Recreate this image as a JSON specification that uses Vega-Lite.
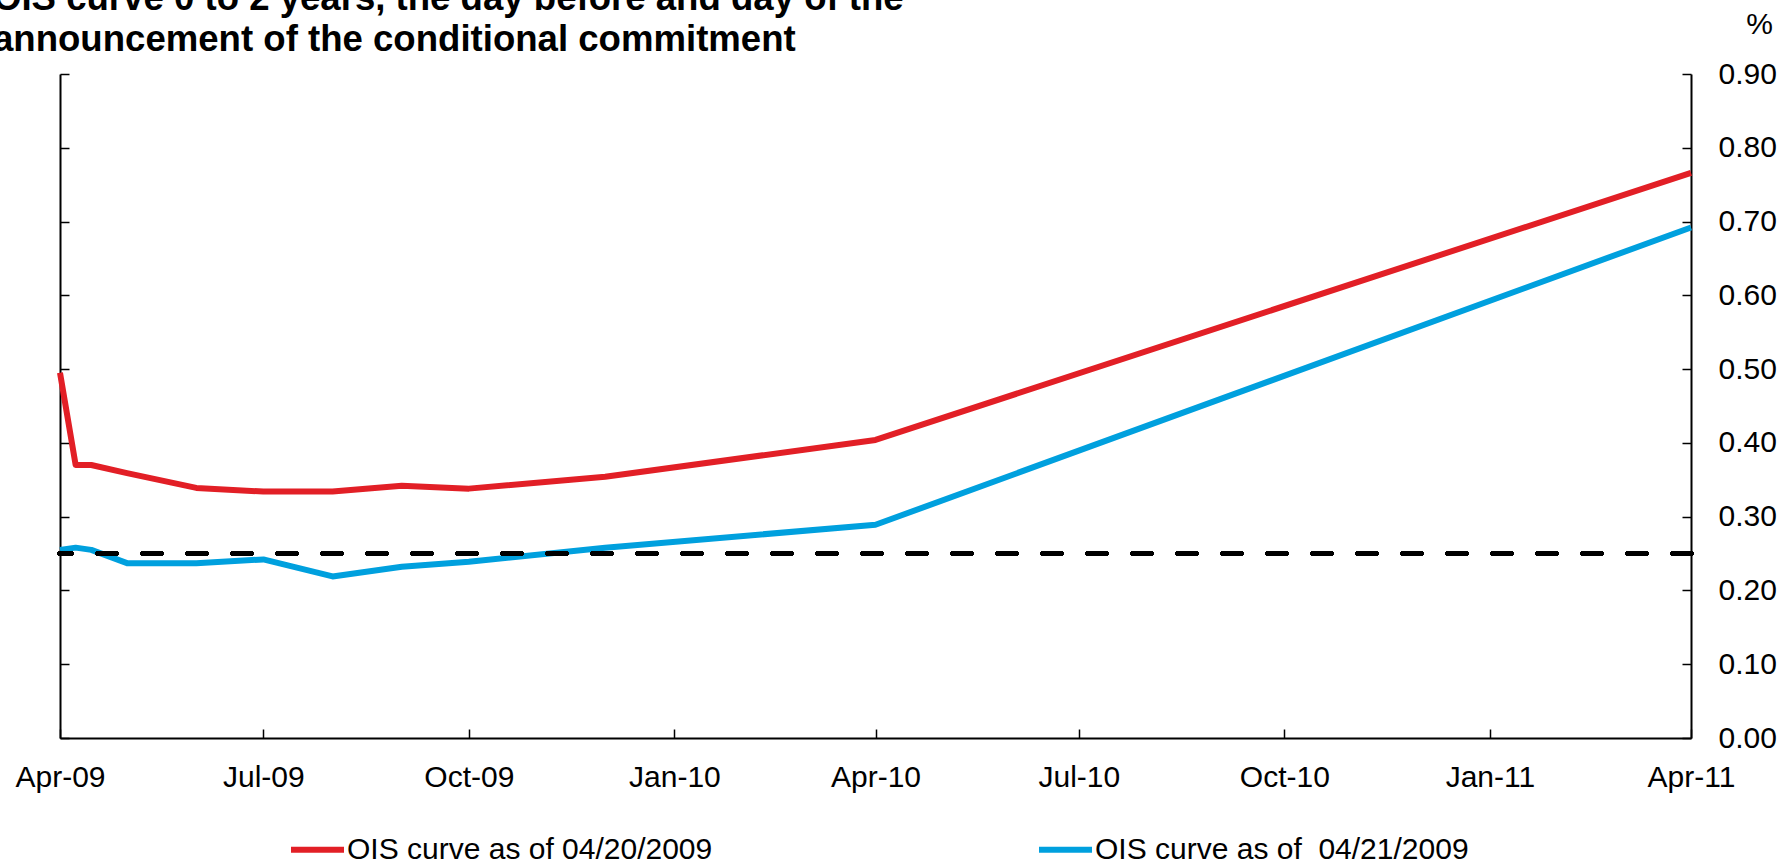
{
  "$schema": "https://vega.github.io/schema/vega-lite/v6.json",
  "width": 1631,
  "height": 664,
  "autosize": {"type": "none"},
  "padding": {"left": 60, "top": 74, "right": 95, "bottom": 129},
  "background": "white",
  "config": {"view": {"stroke": null}, "font": "Liberation Sans"},
  "title": {
    "text": ["OIS curve 0 to 2 years, the day before and day of the", "announcement of the conditional commitment"],
    "anchor": "start",
    "frame": "group",
    "orient": "top",
    "dx": -67,
    "dy": 62,
    "offset": 12,
    "fontSize": 36.6,
    "lineHeight": 41,
    "font": "Liberation Sans",
    "fontWeight": "bold",
    "color": "black"
  },
  "data": {
    "values": [
      {"date": "2009/04/01", "rate": 0.495, "series": "OIS curve as of 04/20/2009"},
      {"date": "2009/04/08", "rate": 0.370, "series": "OIS curve as of 04/20/2009"},
      {"date": "2009/04/15", "rate": 0.370, "series": "OIS curve as of 04/20/2009"},
      {"date": "2009/05/01", "rate": 0.359, "series": "OIS curve as of 04/20/2009"},
      {"date": "2009/06/01", "rate": 0.339, "series": "OIS curve as of 04/20/2009"},
      {"date": "2009/07/01", "rate": 0.334, "series": "OIS curve as of 04/20/2009"},
      {"date": "2009/08/01", "rate": 0.334, "series": "OIS curve as of 04/20/2009"},
      {"date": "2009/09/01", "rate": 0.342, "series": "OIS curve as of 04/20/2009"},
      {"date": "2009/10/01", "rate": 0.338, "series": "OIS curve as of 04/20/2009"},
      {"date": "2009/12/01", "rate": 0.354, "series": "OIS curve as of 04/20/2009"},
      {"date": "2010/04/01", "rate": 0.404, "series": "OIS curve as of 04/20/2009"},
      {"date": "2011/04/01", "rate": 0.766, "series": "OIS curve as of 04/20/2009"},
      {"date": "2009/04/01", "rate": 0.255, "series": "OIS curve as of\u00a0 04/21/2009"},
      {"date": "2009/04/08", "rate": 0.258, "series": "OIS curve as of\u00a0 04/21/2009"},
      {"date": "2009/04/15", "rate": 0.255, "series": "OIS curve as of\u00a0 04/21/2009"},
      {"date": "2009/05/01", "rate": 0.237, "series": "OIS curve as of\u00a0 04/21/2009"},
      {"date": "2009/06/01", "rate": 0.237, "series": "OIS curve as of\u00a0 04/21/2009"},
      {"date": "2009/07/01", "rate": 0.242, "series": "OIS curve as of\u00a0 04/21/2009"},
      {"date": "2009/08/01", "rate": 0.219, "series": "OIS curve as of\u00a0 04/21/2009"},
      {"date": "2009/09/01", "rate": 0.232, "series": "OIS curve as of\u00a0 04/21/2009"},
      {"date": "2009/10/01", "rate": 0.239, "series": "OIS curve as of\u00a0 04/21/2009"},
      {"date": "2009/12/01", "rate": 0.258, "series": "OIS curve as of\u00a0 04/21/2009"},
      {"date": "2010/04/01", "rate": 0.289, "series": "OIS curve as of\u00a0 04/21/2009"},
      {"date": "2011/04/01", "rate": 0.692, "series": "OIS curve as of\u00a0 04/21/2009"}
    ]
  },
  "layer": [
    {
      "mark": {"type": "line", "strokeWidth": 6, "strokeJoin": "round"},
      "encoding": {
        "x": {
          "field": "date",
          "type": "temporal",
          "scale": {"domain": [{"year": 2009, "month": 4, "date": 1}, {"year": 2011, "month": 4, "date": 1}]},
          "axis": {
            "title": null,
            "format": "%b-%y",
            "tickCount": {"interval": "month", "step": 3},
            "grid": false,
            "domainColor": "black",
            "domainWidth": 2,
            "tickColor": "black",
            "tickWidth": 1.5,
            "tickSize": -9,
            "labelPadding": 33,
            "labelFontSize": 30,
            "labelColor": "black",
            "labelFont": "Liberation Sans",
            "labelFlush": false,
            "labelOverlap": false
          }
        },
        "y": {
          "field": "rate",
          "type": "quantitative",
          "scale": {"domain": [0, 0.9], "nice": false, "zero": true},
          "axis": {
            "orient": "right",
            "title": "%",
            "titleAngle": 0,
            "titleX": 68,
            "titleY": -50,
            "titleAlign": "center",
            "titleBaseline": "middle",
            "titleFontSize": 30,
            "titleFontWeight": "normal",
            "titleColor": "black",
            "titleFont": "Liberation Sans",
            "values": [0, 0.1, 0.2, 0.3, 0.4, 0.5, 0.6, 0.7, 0.8, 0.9],
            "format": ".2f",
            "grid": false,
            "domainColor": "black",
            "domainWidth": 2,
            "tickColor": "black",
            "tickWidth": 1.5,
            "tickSize": -9,
            "labelPadding": 36,
            "labelFontSize": 30,
            "labelColor": "black",
            "labelFont": "Liberation Sans",
            "labelBaseline": "middle"
          }
        },
        "color": {
          "field": "series",
          "type": "nominal",
          "scale": {"domain": ["OIS curve as of 04/20/2009", "OIS curve as of\u00a0 04/21/2009"], "range": ["#E21F26", "#00A0DE"]},
          "legend": {
            "title": null,
            "orient": "none",
            "legendX": 228,
            "legendY": 746,
            "direction": "horizontal",
            "columnPadding": 314,
            "symbolType": "stroke",
            "symbolSize": 2809,
            "symbolStrokeWidth": 6,
            "labelFontSize": 30,
            "labelFont": "Liberation Sans",
            "labelColor": "black",
            "labelLimit": 800,
            "labelOffset": 0
          }
        }
      }
    },
    {
      "mark": {"type": "rule", "strokeDash": [18, 27], "strokeWidth": 5, "strokeCap": "round", "color": "black"},
      "encoding": {
        "y": {
          "datum": 0.25,
          "type": "quantitative",
          "axis": {
            "orient": "left",
            "labels": false,
            "title": null,
            "values": [0, 0.1, 0.2, 0.3, 0.4, 0.5, 0.6, 0.7, 0.8, 0.9],
            "grid": false,
            "domainColor": "black",
            "domainWidth": 2,
            "tickColor": "black",
            "tickWidth": 1.5,
            "tickSize": -9
          }
        }
      }
    }
  ],
  "resolve": {"scale": {"y": "shared"}, "axis": {"y": "independent"}}
}
